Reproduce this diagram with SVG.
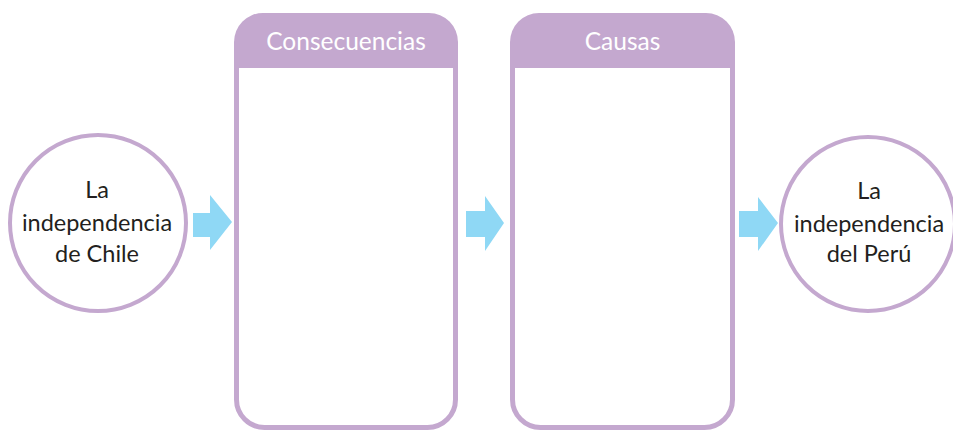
<svg xmlns="http://www.w3.org/2000/svg" width="953" height="432" viewBox="0 0 953 432">
<style>
.ring{fill:#fff;stroke:#C4A8CF;stroke-width:4}
.body{fill:#fff;stroke:#C4A8CF;stroke-width:5}
.head{fill:#C4A8CF}
.arrow{fill:#8FD8F5}
.t{font-family:Lato,"Open Sans","Liberation Sans",sans-serif;font-size:23.5px;fill:#231F20;text-anchor:middle}
.h{font-family:Lato,"Open Sans","Liberation Sans",sans-serif;font-size:24.5px;fill:#fff;text-anchor:middle}
</style>
<rect width="953" height="432" fill="#fff"/>
<g id="chile">
<circle class="ring" cx="98" cy="223" r="88"/>
<text class="t" x="97" y="198">La</text>
<text class="t" x="97" y="231">independencia</text>
<text class="t" x="97" y="262">de Chile</text>
</g>
<g id="consecuencias">
<rect class="body" x="236.5" y="40" width="219" height="387.5" rx="28"/>
<path class="head" d="M234,68 V42 A29,29 0 0 1 263,13 H429 A29,29 0 0 1 458,42 V68 Z"/>
<text class="h" x="346" y="50">Consecuencias</text>
</g>
<g id="causas">
<rect class="body" x="512.5" y="40" width="220" height="387.5" rx="28"/>
<path class="head" d="M510,68 V42 A29,29 0 0 1 539,13 H706 A29,29 0 0 1 735,42 V68 Z"/>
<text class="h" x="622.5" y="50">Causas</text>
</g>
<g id="peru">
<circle class="ring" cx="868" cy="224" r="87"/>
<text class="t" x="869" y="199">La</text>
<text class="t" x="869" y="232">independencia</text>
<text class="t" x="869" y="262">del Perú</text>
</g>
<g id="connectors">
<polygon class="arrow" points="193,213 210,213 210,195 232,222 210,250 210,237 193,237"/>
<polygon class="arrow" points="466,211 485,211 485,196 504,223 485,251 485,237 466,237"/>
<polygon class="arrow" points="739,211 758,211 758,197 778,223 758,251 758,237 739,237"/>
</g>
</svg>
